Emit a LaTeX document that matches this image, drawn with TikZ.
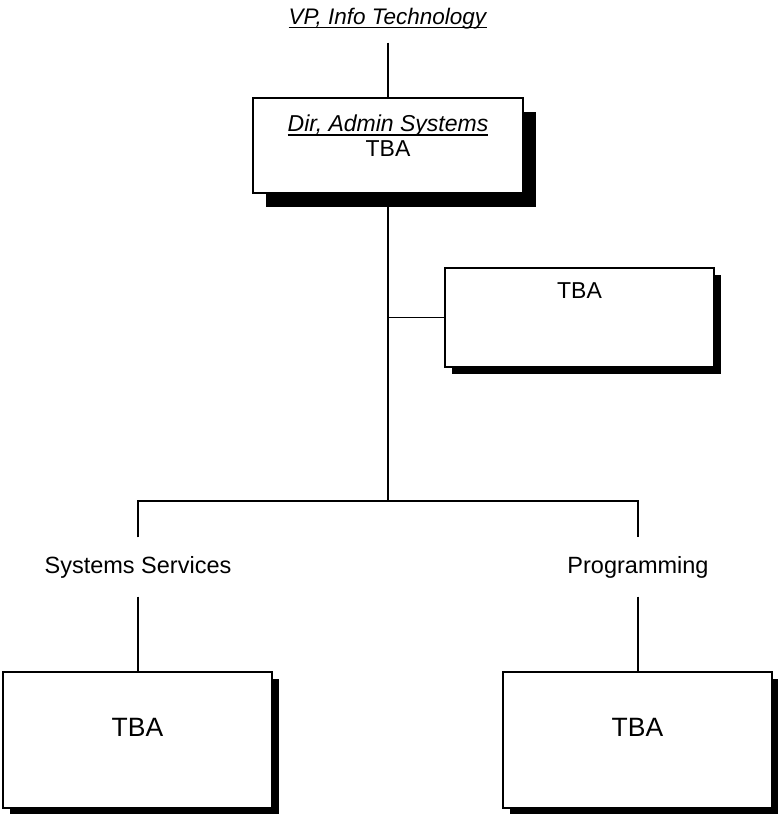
\documentclass[tikz,border=0pt]{standalone}
\usepackage{fontspec}
\setmainfont{Liberation Sans}
\usetikzlibrary{shadows}

% thick underline, as in the chart
\newcommand{\ulbox}[1]{\setbox0\hbox{#1}\leavevmode\rlap{\rule[-4pt]{\wd0}{1.3pt}}\box0}

\begin{document}
\begin{tikzpicture}[
	x=1pt, y=-1pt,
	line width=1.3pt,
	box/.style={draw, fill=white, line width=1.3pt, inner sep=0pt, minimum width=269pt},
	shade small/.style={general shadow={fill=black, shadow xshift=7pt, shadow yshift=-7pt}},
	shade big/.style={general shadow={fill=black, shadow xshift=13pt, shadow yshift=-14pt}},
	txt/.style={font=\fontsize{23}{25}\selectfont, inner sep=0pt, align=center},
	unit/.style={font=\fontsize{23.5}{26}\selectfont, text height=17pt, text depth=5pt,
		inner xsep=0pt, inner ysep=18pt}
]
	\useasboundingbox (0, 0) rectangle (777, 814);

	% head of the chart
	\node[font=\fontsize{22.5}{25}\selectfont, text height=17pt, text depth=7pt,
		inner xsep=0pt, inner ysep=11pt] (vp) at (388, 19)
		{\ulbox{\textit{VP, Info Technology}}};

	\node[box, shade big, minimum width=270pt, minimum height=95pt] (dir) at (388, 145.5) {};
	\node[txt, anchor=north] (dirText) at ([yshift=-17pt]dir.north)
		{\ulbox{\textit{Dir, Admin Systems}}\\TBA};
	\draw (vp.south) -- (dir.north);

	\node[box, shade small, minimum height=99pt] (side) at (579.5, 317.5) {};
	\node[txt, anchor=north] (sideText) at ([yshift=-15pt]side.north) {TBA};

	\coordinate (hub) at (388, 501);
	\draw (dir.south) -- (hub);
	\draw (dir.south |- side.west) -- (side.west);

	% the two units
	\node[unit] (sysLbl) at (138, 567) {Systems Services};
	\node[unit] (progLbl) at (638, 567) {Programming};
	\draw (sysLbl.north) |- (hub) -| (progLbl.north);

	\node[box, shade small, minimum height=136pt] (sysBox) at (137.5, 740) {};
	\node[box, shade small, minimum height=136pt] (progBox) at (637.5, 740) {};
	\node[txt, font=\fontsize{26.5}{30}\selectfont, anchor=north] (sysText)
		at ([yshift=-46pt]sysBox.north) {TBA};
	\node[txt, font=\fontsize{26.5}{30}\selectfont, anchor=north] (progText)
		at ([yshift=-46pt]progBox.north) {TBA};

	\draw (sysLbl.south) -- (sysLbl.south |- sysBox.north);
	\draw (progLbl.south) -- (progLbl.south |- progBox.north);

\end{tikzpicture}
\end{document}
